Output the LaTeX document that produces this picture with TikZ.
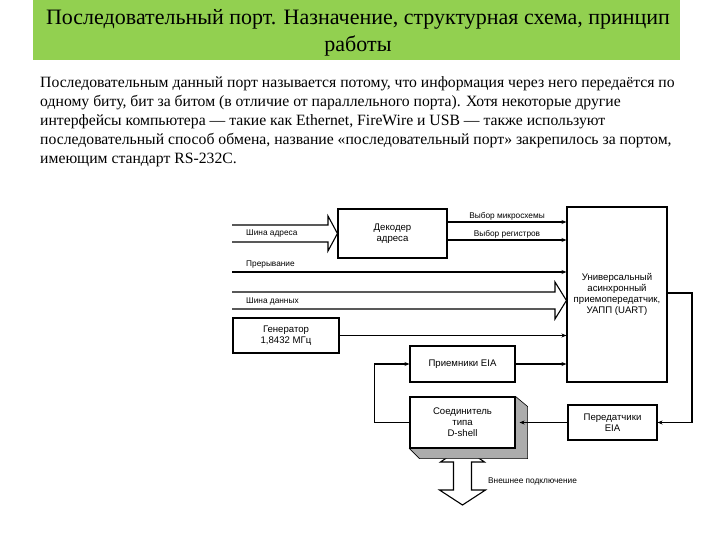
\documentclass[tikz,border=0pt]{standalone}
\usepackage{fontspec}
\setmainfont{Liberation Serif}
\setsansfont{Liberation Sans}
\usetikzlibrary{arrows.meta}
\definecolor{titlegreen}{RGB}{146,208,80}

\begin{document}
\begin{tikzpicture}[x=1pt,y=-1pt,
  blok/.style={draw,line width=1.1pt,align=center,inner sep=1pt,font=\sffamily\fontsize{9.6}{11}\selectfont},
  sig/.style={line width=1.1pt,-{Stealth[length=5pt,width=4pt]}},
  bus/.style={line width=1.1pt,line join=miter},
  lbl/.style={inner sep=1pt,font=\sffamily\fontsize{8.3}{10}\selectfont}]

\useasboundingbox (0,0) rectangle (720,540);

% Title band
\fill[titlegreen] (33,0) rectangle (680,60);
\node[align=center,font=\fontsize{22}{27}\selectfont] (title) at (358,32.5)
  {Последовательный порт. Назначение, структурная схема, принцип\\работы};

% Intro text
\node[anchor=north west,align=left,inner sep=0pt,font=\fontsize{15.7}{19}\selectfont] (intro) at (40,76)
  {Последовательным данный порт называется потому, что информация через него передаётся по\\
   одному биту, бит за битом (в отличие от параллельного порта). Хотя некоторые другие\\
   интерфейсы компьютера — такие как Ethernet, FireWire и USB — также используют\\
   последовательный способ обмена, название «последовательный порт» закрепилось за портом,\\
   имеющим стандарт RS-232C.};

% Blocks
\node[blok,minimum width=109,minimum height=49] (decoder) at (392.5,233.5) {Декодер\\адреса};
\node[blok,minimum width=100,minimum height=175] (uart) at (617,294.5)
  {Универсальный\\асинхронный\\приемопередатчик,\\УАПП (UART)};
\node[blok,minimum width=106,minimum height=35] (gen) at (286,335.5) {Генератор\\1,8432 МГц};
\node[blok,minimum width=105,minimum height=36] (recv) at (462.5,364) {Приемники EIA};
\node[blok,minimum width=89,minimum height=35] (trans) at (612.5,422.5) {Передатчики\\EIA};

% External connection (double hollow arrow)
\draw[bus,fill=white] (462.5,447) -- ++(22,15) -- ++(-13,0) -- ++(0,28) -- ++(14,0) -- ++(-23,15)
  -- ++(-23,-15) -- ++(14,0) -- ++(0,-28) -- ++(-13,0) -- cycle;
\node[lbl,anchor=west] (extlbl) at (487,481) {Внешнее подключение};

% Connector with its shadow
\node[blok,minimum width=105,minimum height=51] (conn) at (462.5,422.5) {};
\filldraw[fill=gray!65,line width=0.6pt] (conn.north east) -- ++(12,10) |- ([shift={(10,10)}]conn.south west)
  -- (conn.south west) -- cycle;
\node[blok,fill=white,minimum width=105,minimum height=51] (conn) at (462.5,422.5) {Соединитель\\типа\\D-shell};

% Address bus
\draw[bus] (232,225) -- (328,225) -- (328,216) -- (decoder.west) -- (328,251) -- (328,242) -- (232,242);
\node[lbl,anchor=west] (addrlbl) at (245,234) {Шина адреса};

% Decoder outputs
\draw[sig] (decoder.east |- 0,222) -- (uart.west |- 0,222) node[lbl,midway,above] (cslbl) {Выбор микросхемы};
\draw[sig] (decoder.east |- 0,240) -- (uart.west |- 0,240) node[lbl,midway,above] (reglbl) {Выбор регистров};

% Interrupt
\coordinate (irqin) at (232,272);
\draw[sig] (irqin) -- (irqin -| uart.west);
\node[lbl,anchor=west] (irqlbl) at (245,265) {Прерывание};

% Data bus
\draw[bus] (232,292) -- (555,292) -- (555,282) -- (uart.west |- 0,300.5) -- (555,319) -- (555,309) -- (232,309);
\node[lbl,anchor=west] (datalbl) at (245,301) {Шина данных};

% Clock and receivers
\draw[sig] (gen.east) -- (gen.east -| uart.west);
\draw[sig] (recv.east) -- (recv.east -| uart.west);
\draw[sig] (conn.west) -- ++(-35,0) |- (recv.west);

% Transmitters
\draw[sig] (uart.east |- 0,293) -- (692,293) |- (trans.east);
\draw[sig] (trans.west) -- ([xshift=4pt]conn.east);

\end{tikzpicture}
\end{document}
